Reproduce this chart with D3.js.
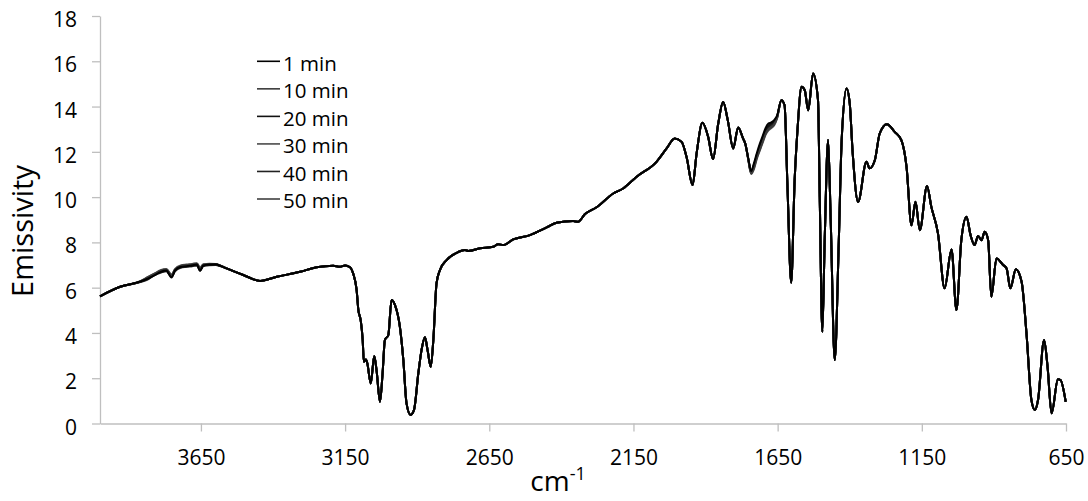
<!DOCTYPE html>
<html>
<head>
<meta charset="utf-8">
<script src="https://cdn.jsdelivr.net/npm/d3@7"></script>
<style>
  html, body { margin: 0; padding: 0; background: #fff; }
  svg { display: block; }
  text { font-family: "Open Sans", "Liberation Sans", sans-serif; fill: #000; }
</style>
</head>
<body>
<svg id="chart" width="1088" height="501"></svg>
<script>
// Emission spectrum, shared part of all traces (wavenumber in cm-1, emissivity)
const wavenumbers = [
  4000, 3930,
  3561, 3503, 3445, 3387, 3306, 3249, 3191, 3168, 3150, 3133, 3122, 3110, 3104, 3096,
  3089, 3085, 3078, 3073, 3061, 3049, 3041, 3029, 3020, 3012, 3000, 2989, 2977, 2960,
  2948, 2937, 2923, 2911, 2896, 2885, 2873, 2864, 2853, 2844, 2833, 2821, 2798, 2763,
  2734, 2723, 2682, 2636, 2619, 2602, 2567, 2509, 2451, 2417, 2359, 2342, 2318, 2278,
  2220, 2186, 2139, 2070, 2035, 2007, 1983, 1966, 1945, 1931, 1911, 1891, 1874, 1856,
  1839, 1823, 1804, 1787, 1770,
  1637, 1626, 1616, 1603, 1591, 1581, 1567, 1556, 1544, 1527, 1510, 1504, 1495, 1487,
  1475, 1466, 1452, 1438, 1428, 1411, 1400, 1390, 1371, 1342, 1331, 1313, 1296, 1271,
  1244, 1221, 1203, 1186, 1172, 1157, 1132, 1117, 1094, 1071, 1047, 1030, 1013, 995,
  981, 967, 955, 943, 932, 920, 909, 891, 868, 856, 843, 824, 804, 787, 770, 758, 747,
  726, 714, 700, 678, 669, 651
];
const baseline = [
  5.62, 6.04,
  6.85, 6.56, 6.30, 6.48, 6.70, 6.90, 6.97, 6.92, 6.98, 6.90, 6.62, 5.89, 5.01, 4.57,
  3.69, 2.73, 2.83, 2.66, 1.77, 2.98, 2.36, 0.96, 2.22, 3.69, 3.91, 5.45, 5.23, 4.27,
  2.80, 0.89, 0.38, 0.60, 2.22, 3.24, 3.81, 3.24, 2.51, 3.69, 6.19, 6.78, 7.22, 7.54,
  7.66, 7.62, 7.74, 7.81, 7.92, 7.88, 8.13, 8.32, 8.66, 8.87, 8.94, 8.91, 9.25, 9.55,
  10.16, 10.38, 10.90, 11.56, 12.15, 12.59, 12.44, 11.78, 10.53, 11.93, 13.28, 12.66, 11.68, 13.25,
  14.20, 13.40, 12.15, 13.08, 12.59,
  14.28, 14.06, 10.50, 6.22, 10.75, 13.00, 14.87, 14.72, 13.84, 15.46, 14.28, 10.00, 4.05, 8.00,
  12.52, 9.00, 2.80, 8.00, 12.50, 14.80, 14.14, 12.00, 9.79, 11.56, 11.27, 11.63, 12.81, 13.22,
  12.88, 12.52, 11.34, 8.76, 9.79, 8.54, 10.49, 9.57, 8.40, 5.97, 7.69, 5.01, 8.10, 9.13,
  8.32, 7.88, 8.28, 8.10, 8.47, 8.10, 5.60, 7.29, 7.00, 6.85, 5.97, 6.81, 6.26, 3.98, 1.04, 0.60, 1.04,
  3.69, 2.51, 0.45, 1.95, 1.92, 0.96
];

const seriesNames = ["1 min", "10 min", "20 min", "30 min", "40 min", "50 min"];
const seriesColors = ["#000000", "#3a3a3a", "#111111", "#4a4a4a", "#222222", "#404040"];

// O-H band region, where the traces separate slightly
const bandWn1 = [3860, 3835, 3810, 3790, 3770, 3752, 3740, 3720, 3700, 3680, 3664, 3653, 3642, 3620, 3600, 3580];
const band1 = [
  [6.27, 6.40, 6.55, 6.70, 6.76, 6.45, 6.76, 6.92, 6.95, 6.99, 7.02, 6.74, 6.98, 7.02, 7.03, 6.95],
  [6.28, 6.45, 6.62, 6.75, 6.80, 6.55, 6.80, 6.96, 7.00, 7.03, 7.06, 6.84, 7.01, 7.04, 7.04, 6.96],
  [6.26, 6.38, 6.58, 6.68, 6.74, 6.50, 6.74, 6.90, 6.93, 6.97, 7.00, 6.78, 6.96, 7.00, 7.01, 6.94],
  [6.29, 6.46, 6.63, 6.77, 6.82, 6.58, 6.82, 6.98, 7.02, 7.05, 7.08, 6.88, 7.04, 7.06, 7.05, 6.96],
  [6.27, 6.42, 6.60, 6.72, 6.78, 6.52, 6.78, 6.94, 6.98, 7.01, 7.04, 6.81, 7.00, 7.03, 7.03, 6.95],
  [6.25, 6.36, 6.56, 6.66, 6.72, 6.48, 6.72, 6.88, 6.92, 6.95, 6.98, 6.76, 6.95, 6.99, 7.00, 6.94]
];

// Carbonyl shoulder region, where the traces separate slightly
const bandWn2 = [1762, 1752, 1742, 1732, 1722, 1712, 1702, 1692, 1682, 1672, 1662, 1652];
const band2 = [
  [12.35, 11.72, 11.15, 11.50, 11.95, 12.35, 12.70, 13.05, 13.25, 13.30, 13.40, 13.60],
  [12.35, 11.68, 11.05, 11.30, 11.75, 12.10, 12.45, 12.80, 13.00, 13.10, 13.22, 13.50],
  [12.34, 11.70, 11.12, 11.45, 11.80, 12.25, 12.60, 12.95, 13.15, 13.25, 13.32, 13.56],
  [12.36, 11.66, 11.02, 11.25, 11.70, 12.05, 12.40, 12.75, 12.95, 13.05, 13.18, 13.48],
  [12.35, 11.71, 11.10, 11.40, 11.88, 12.18, 12.58, 12.88, 13.12, 13.18, 13.30, 13.55],
  [12.36, 11.69, 11.08, 11.35, 11.82, 12.15, 12.50, 12.85, 13.05, 13.15, 13.26, 13.52]
];

const xTicks = [3650, 3150, 2650, 2150, 1650, 1150, 650];
const yTicks = [0, 2, 4, 6, 8, 10, 12, 14, 16, 18];

const svg = d3.select("#chart");
const plotLeft = 100, plotRight = 1066, plotTop = 16, plotBottom = 423.5;

const x = d3.scaleLinear().domain([4000, 650]).range([plotLeft, plotRight]);
const y = d3.scaleLinear().domain([0, 18]).range([plotBottom, plotTop]);

// Axes
const axisColor = "#bfbfbf";
const gx = svg.append("g").attr("transform", `translate(0,${plotBottom})`)
  .call(d3.axisBottom(x).tickValues(xTicks).tickSize(8).tickSizeOuter(0).tickFormat(d3.format("d")));
const gy = svg.append("g").attr("transform", `translate(${plotLeft},0)`)
  .call(d3.axisLeft(y).tickValues(yTicks).tickSize(8).tickSizeOuter(0).tickFormat(d3.format("d")));
[gx, gy].forEach(g => {
  g.select(".domain").attr("stroke", axisColor).attr("stroke-width", 1.3);
  g.selectAll(".tick line").attr("stroke", axisColor).attr("stroke-width", 1.3);
  g.selectAll(".tick text").attr("fill", "#000")
    .style("font-family", "'Open Sans', sans-serif").style("font-size", "21px");
});
gx.selectAll(".tick text").attr("y", 41).attr("dy", null);
gy.selectAll(".tick text").attr("x", -23).attr("dy", "0.5em");

// Build each trace from the shared curve plus its own band readings
const bandRanges = [[3580, 3860], [1652, 1762]];
const traces = seriesNames.map((name, i) => {
  const pts = [];
  wavenumbers.forEach((w, k) => {
    if (!bandRanges.some(([a, b]) => w >= a && w <= b)) pts.push([w, baseline[k]]);
  });
  bandWn1.forEach((w, k) => pts.push([w, band1[i][k]]));
  bandWn2.forEach((w, k) => pts.push([w, band2[i][k]]));
  pts.sort((p, q) => q[0] - p[0]);
  return { name, color: seriesColors[i], pts };
});

const line = d3.line()
  .x(d => x(d[0]))
  .y(d => y(d[1]))
  .curve(d3.curveMonotoneX);

svg.append("g").selectAll("path")
  .data(traces.slice().reverse())
  .join("path")
  .attr("d", d => line(d.pts))
  .attr("fill", "none")
  .attr("stroke", d => d.color)
  .attr("stroke-width", 2)
  .attr("stroke-linejoin", "round");

// Legend
const legend = svg.append("g");
const rowY = d3.scaleLinear().domain([0, 5]).range([61.3, 199]);
traces.forEach((t, i) => {
  const yy = rowY(i);
  legend.append("line")
    .attr("x1", 257).attr("x2", 280).attr("y1", yy).attr("y2", yy)
    .attr("stroke", t.color).attr("stroke-width", 1.6);
  legend.append("text")
    .attr("x", 283).attr("y", yy).attr("dy", "0.45em")
    .style("font-size", "20.5px")
    .text(t.name);
});

// Axis titles
svg.append("text")
  .attr("transform", "translate(33,231) rotate(-90)")
  .attr("text-anchor", "middle")
  .style("font-size", "29px")
  .text("Emissivity");

const xt = svg.append("text")
  .attr("x", 558).attr("y", 491)
  .attr("text-anchor", "middle")
  .style("font-size", "28px");
xt.append("tspan").text("cm");
xt.append("tspan").attr("dy", "-11").style("font-size", "18px").text("-1");
</script>
</body>
</html>
